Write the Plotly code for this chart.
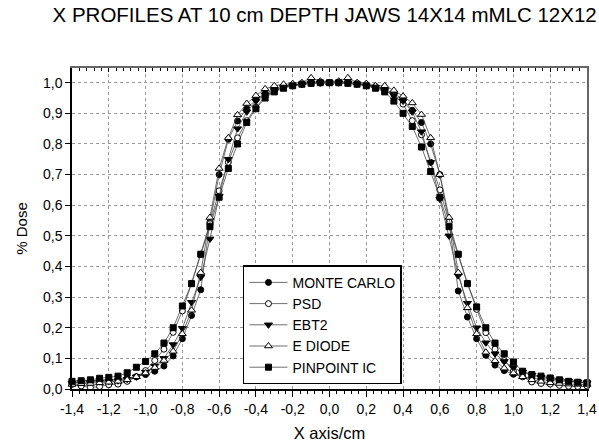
import plotly.graph_objects as go

# x positions (cm)
x_cm = [-1.4, -1.35, -1.3, -1.25, -1.2, -1.15, -1.1, -1.05, -1.0, -0.95, -0.9, -0.85, -0.8, -0.75,
        -0.7, -0.65, -0.6, -0.55, -0.5, -0.45, -0.4, -0.35, -0.3, -0.25, -0.2, -0.15, -0.1, -0.05,
        0.0, 0.05, 0.1, 0.15, 0.2, 0.25, 0.3, 0.35, 0.4, 0.45, 0.5, 0.55, 0.6, 0.65, 0.7, 0.75,
        0.8, 0.85, 0.9, 0.95, 1.0, 1.05, 1.1, 1.15, 1.2, 1.25, 1.3, 1.35, 1.4]

monte_carlo = [0.020, 0.022, 0.024, 0.026, 0.028, 0.031, 0.035, 0.040, 0.047, 0.058, 0.075, 0.108, 0.164, 0.240,
               0.324, 0.544, 0.700, 0.815, 0.875, 0.915, 0.945, 0.965, 0.978, 0.988, 0.993, 0.996, 0.998, 0.999,
               1.000, 1.000, 0.999, 0.997, 0.994, 0.988, 0.978, 0.965, 0.945, 0.910, 0.870, 0.800, 0.700, 0.545,
               0.320, 0.235, 0.164, 0.110, 0.078, 0.060, 0.048, 0.040, 0.035, 0.031, 0.028, 0.026, 0.024, 0.022, 0.020]

psd = [0.015, 0.010, 0.005, 0.008, 0.014, 0.016, 0.025, 0.040, 0.060, 0.093, 0.130, 0.185, 0.255, 0.345,
       0.440, 0.540, 0.647, 0.740, 0.820, 0.876, 0.920, 0.955, 0.972, 0.985, 0.992, 0.996, 1.000, 1.000,
       1.000, 1.000, 1.000, 0.997, 0.990, 0.985, 0.975, 0.960, 0.930, 0.876, 0.830, 0.740, 0.650, 0.545,
       0.440, 0.345, 0.260, 0.184, 0.130, 0.093, 0.058, 0.040, 0.023, 0.018, 0.016, 0.012, 0.009, 0.008, 0.010]

ebt2 = [0.020, 0.022, 0.022, 0.024, 0.025, 0.027, 0.032, 0.040, 0.055, 0.075, 0.100, 0.145, 0.198, 0.283,
        0.365, 0.490, 0.630, 0.750, 0.850, 0.905, 0.940, 0.960, 0.975, 0.985, 0.990, 0.995, 0.998, 1.000,
        1.000, 1.000, 0.998, 0.995, 0.990, 0.985, 0.975, 0.960, 0.940, 0.905, 0.840, 0.740, 0.620, 0.500,
        0.370, 0.280, 0.200, 0.151, 0.115, 0.090, 0.070, 0.055, 0.045, 0.038, 0.033, 0.028, 0.025, 0.022, 0.020]

e_diode = [0.015, 0.017, 0.018, 0.020, 0.022, 0.025, 0.030, 0.040, 0.052, 0.070, 0.093, 0.123, 0.180, 0.257,
           0.380, 0.560, 0.720, 0.820, 0.895, 0.932, 0.958, 0.980, 0.990, 0.995, 0.997, 1.000, 1.016, 1.005,
           1.000, 1.005, 1.016, 1.000, 0.997, 0.990, 0.990, 0.975, 0.956, 0.934, 0.896, 0.820, 0.700, 0.560,
           0.380, 0.265, 0.180, 0.120, 0.092, 0.068, 0.052, 0.040, 0.030, 0.025, 0.020, 0.018, 0.016, 0.015, 0.015]

pinpoint = [0.025, 0.027, 0.030, 0.035, 0.038, 0.042, 0.053, 0.071, 0.090, 0.115, 0.150, 0.200, 0.271, 0.344,
            0.440, 0.530, 0.626, 0.720, 0.800, 0.870, 0.915, 0.950, 0.970, 0.982, 0.990, 0.995, 0.998, 1.000,
            1.000, 1.000, 0.998, 0.995, 0.990, 0.982, 0.970, 0.940, 0.900, 0.857, 0.790, 0.710, 0.626, 0.530,
            0.440, 0.344, 0.268, 0.200, 0.150, 0.115, 0.088, 0.058, 0.047, 0.042, 0.036, 0.030, 0.025, 0.022, 0.020]

x_tick_vals = [-1.4, -1.2, -1.0, -0.8, -0.6, -0.4, -0.2, 0.0, 0.2, 0.4, 0.6, 0.8, 1.0, 1.2, 1.4]
x_tick_text = ["-1,4", "-1,2", "-1,0", "-0,8", "-0,6", "-0,4", "-0,2", "0,0", "0,2", "0,4", "0,6", "0,8",
               "1,0", "1,2", "1,4"]
y_tick_vals = [0.0, 0.1, 0.2, 0.3, 0.4, 0.5, 0.6, 0.7, 0.8, 0.9, 1.0]
y_tick_text = ["0,0", "0,1", "0,2", "0,3", "0,4", "0,5", "0,6", "0,7", "0,8", "0,9", "1,0"]

series = [
    ("MONTE CARLO", monte_carlo, "circle", "black", 6),
    ("PSD", psd, "circle", "white", 6),
    ("EBT2", ebt2, "triangle-down", "black", 7),
    ("E DIODE", e_diode, "triangle-up", "white", 7),
    ("PINPOINT IC", pinpoint, "square", "black", 6),
]

FONT = "Liberation Sans, Arial, sans-serif"

fig = go.Figure()
for name, vals, sym, fill, size in series:
    fig.add_trace(go.Scatter(
        x=x_cm, y=vals, name=name, mode="lines+markers",
        line=dict(color="#4a4a4a", width=0.8),
        marker=dict(symbol=sym, size=size, color=fill, line=dict(color="black", width=1)),
        cliponaxis=False,
    ))

# helper trace to carry the top / right frame axes
fig.add_trace(go.Scatter(x=[None], y=[None], xaxis="x2", yaxis="y2", showlegend=False, hoverinfo="skip"))

fig.update_layout(
    width=599, height=444,
    margin=dict(l=72, r=12, t=68, b=55, autoexpand=False),
    paper_bgcolor="white", plot_bgcolor="white",
    font=dict(family=FONT, size=14, color="black"),
    title=dict(text="X PROFILES AT 10 cm DEPTH JAWS 14X14 mMLC 12X12",
               x=0.542, xanchor="center", y=0.966, yanchor="middle",
               font=dict(family=FONT, size=20.5, color="black")),
    xaxis=dict(range=[-1.4, 1.4], tickvals=x_tick_vals, ticktext=x_tick_text,
               showline=True, linecolor="black", linewidth=1.5,
               ticks="outside", ticklen=6, tickwidth=1.2, tickcolor="black",
               tickfont=dict(size=14),
               minor=dict(dtick=0.04, tick0=-1.4, ticks="outside", ticklen=3, tickcolor="black", showgrid=False),
               showgrid=True, gridcolor="#9a9a9a", griddash="dot", gridwidth=1,
               zeroline=False, automargin=False,
               title=dict(text="X axis/cm", font=dict(size=16.5), standoff=12)),
    yaxis=dict(range=[0, 1.048], tickvals=y_tick_vals, ticktext=y_tick_text,
               showline=True, linecolor="black", linewidth=1.5,
               ticks="outside", ticklen=5, tickwidth=1.2, tickcolor="black",
               tickfont=dict(size=14),
               showgrid=True, gridcolor="#9a9a9a", griddash="dot", gridwidth=1,
               zeroline=False, automargin=False,
               title=dict(text="% Dose", font=dict(size=15), standoff=12)),
    xaxis2=dict(range=[-1.4, 1.4], overlaying="x", side="top", anchor="y",
                showline=True, linecolor="#666666", linewidth=2,
                tickvals=x_tick_vals, ticks="inside", ticklen=4, tickcolor="black",
                showticklabels=False, showgrid=False, zeroline=False,
                minor=dict(dtick=0.04, tick0=-1.4, ticks="inside", ticklen=3, tickcolor="black", showgrid=False)),
    yaxis2=dict(range=[0, 1.048], overlaying="y", side="right", anchor="x",
                showline=True, linecolor="#666666", linewidth=2,
                ticks="", showticklabels=False, showgrid=False, zeroline=False),
    legend=dict(x=0.332, y=0.2, xanchor="left", yanchor="middle",
                bgcolor="white", bordercolor="black", borderwidth=1.5,
                font=dict(family=FONT, size=14, color="black"),
                itemwidth=38, tracegroupgap=0),
    showlegend=True,
)

fig.write_html("out.html")
